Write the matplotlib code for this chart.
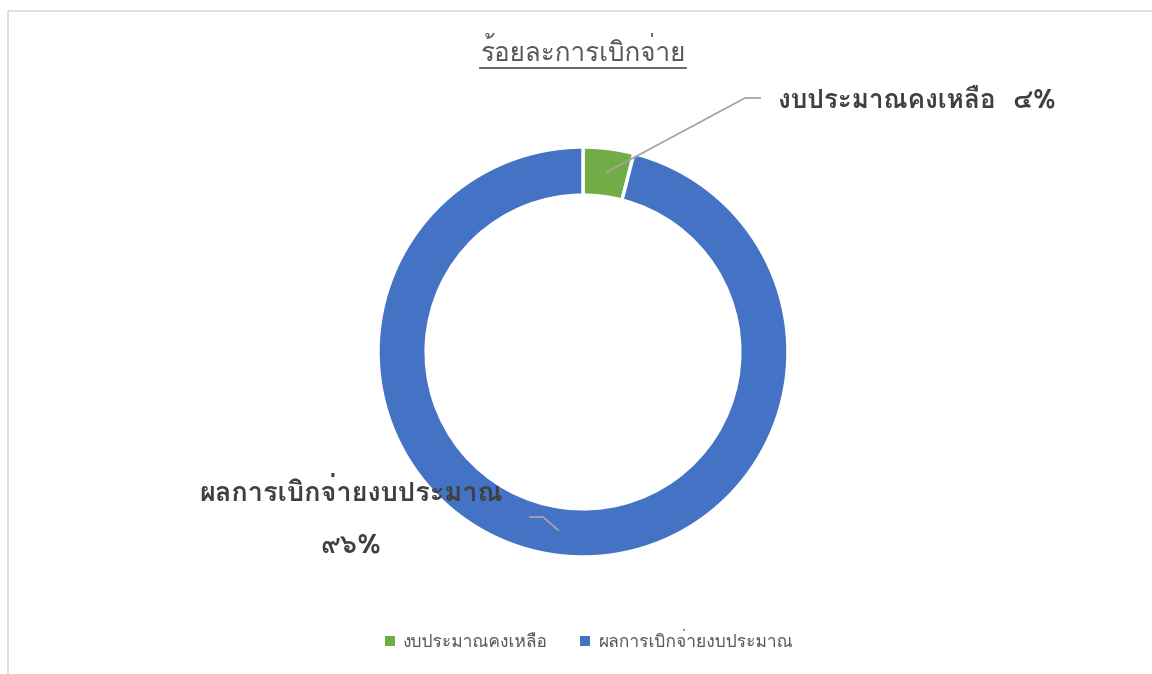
import matplotlib
matplotlib.use('Agg')
import matplotlib.pyplot as plt
from matplotlib import font_manager
from matplotlib.ft2font import FT2Font
from matplotlib.patches import Rectangle

# ข้อมูล
labels = ['งบประมาณคงเหลือ', 'ผลการเบิกจ่ายงบประมาณ']
values = [4, 96]
colors = ['#70AD47', '#4472C4']
title = 'ร้อยละการเบิกจ่าย'


def find_thai_font():
    """ หา font ที่มีตัวอักษรไทย """
    found = []
    for f in font_manager.fontManager.ttflist:
        try:
            ft = FT2Font(f.fname)
            if ft.get_char_index(ord('ก')) and ft.get_char_index(ord('๙')):
                found.append(f.name)
        except Exception:
            pass
    return found


thai = find_thai_font()
families = (thai[:1] if thai else []) + ['DejaVu Sans']
plt.rcParams['font.family'] = families

thai_digits = str.maketrans('0123456789', '๐๑๒๓๔๕๖๗๘๙')
total = sum(values)
pcts = [str(round(v * 100 / total)).translate(thai_digits) + '%' for v in values]

W, H = 1152, 674
fig = plt.figure(figsize=(W / 100, H / 100), dpi=100)

# กรอบแผนภูมิ (ซ้ายกับบน)
bx, by = 7.5, 11
fig.lines.append(plt.Line2D([bx / W, bx / W, 1.0], [0, 1 - by / H, 1 - by / H],
                            transform=fig.transFigure, color='#D9D9D9', linewidth=1.2))

cx, cy, r = 583, 352, 205
ax = fig.add_axes([(cx - r) / W, (H - cy - r) / H, 2 * r / W, 2 * r / H])
ax.pie(values, colors=colors, startangle=90, counterclock=False, radius=1,
       wedgeprops=dict(width=0.235, edgecolor='white', linewidth=2.5))
ax.set_xlim(-1, 1)
ax.set_ylim(-1, 1)
ax.set_aspect('equal')
ax.axis('off')


def d(px, py):
    return ((px - cx) / r, (cy - py) / r)


# เส้นโยง
for pts in [[d(607, 172), d(745, 98), d(760, 98)],
            [d(558, 530), d(543, 517), d(530, 517)]]:
    xs = [p[0] for p in pts]
    ys = [p[1] for p in pts]
    ax.plot(xs, ys, color='#A6A6A6', linewidth=1.3, clip_on=False)

lab_color = '#404040'
x0, y0 = d(778, 100)
ax.text(x0, y0, labels[0] + '  ' + pcts[0], fontsize=18.8, fontweight='bold',
        color=lab_color, ha='left', va='center', clip_on=False)
x1, y1 = d(351, 492)
ax.text(x1, y1, labels[1], fontsize=19.5, fontweight='bold',
        color=lab_color, ha='center', va='center', clip_on=False)
x2, y2 = d(351, 545)
ax.text(x2, y2, pcts[1], fontsize=19.5, fontweight='bold',
        color=lab_color, ha='center', va='center', clip_on=False)

# ชื่อแผนภูมิ + ขีดเส้นใต้
t = fig.text(583 / W, 1 - 52 / H, title, fontsize=18.7, color='#595959',
             ha='center', va='center')
fig.canvas.draw()
bb = t.get_window_extent(renderer=fig.canvas.get_renderer())
uy = 1 - 68 / H
fig.lines.append(plt.Line2D([bb.x0 / W, bb.x1 / W], [uy, uy],
                            transform=fig.transFigure, color='#595959', linewidth=1.3))

# legend
handles = [Rectangle((0, 0), 1, 1, facecolor=c) for c in colors]
fig.legend(handles, labels, loc='center', bbox_to_anchor=(589 / W, 1 - 642 / H),
           ncol=2, frameon=False, fontsize=12.5, labelcolor='#595959',
           handlelength=0.55, handleheight=0.55, handletextpad=0.5, columnspacing=1.85)

fig.savefig('out.png', dpi=100)
